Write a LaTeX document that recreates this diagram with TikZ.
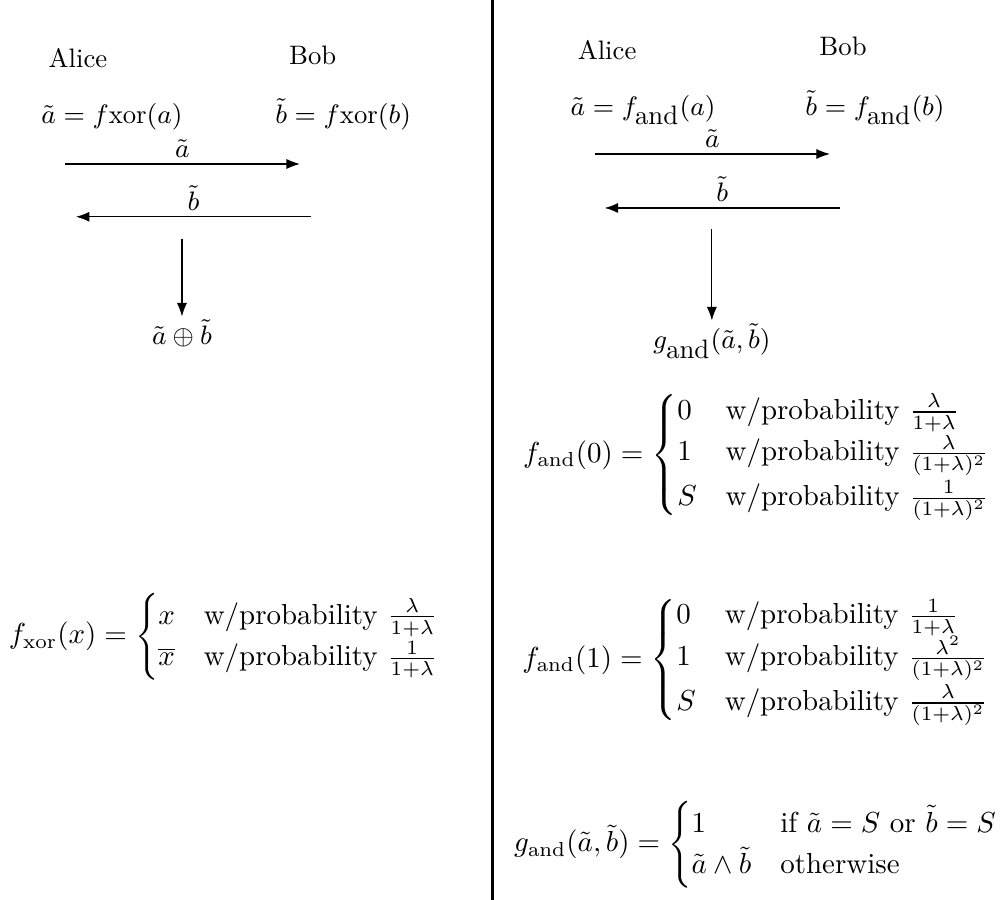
\RequirePackage{fix-cm}
\documentclass[tikz,border=0pt]{standalone}
\usepackage{amssymb}
\usepackage{amsmath}
\usetikzlibrary{arrows.meta}

\tikzset{
  toplabel/.style={font=\fontsize{9.5}{11.4}\selectfont},
  formula/.style={font=\fontsize{10.3}{12.4}\selectfont},
  result/.style={toplabel,anchor=base,inner sep=1pt}
}

\begin{document}
\begin{tikzpicture}[>=Latex]
\useasboundingbox (0,0) rectangle (12.54,-11.25);
% divider
\draw[line width=1pt] (6.16,0) -- (6.16,-11.25);
% xor
\begin{scope}
\node[toplabel,anchor=base] (xalice) at (0.975,-0.85) {Alice};
\node[toplabel,anchor=base] (xbob) at (3.91,-0.81) {Bob};
\node[toplabel,anchor=base] (xfa) at (1.40,-1.55) {$\tilde{a} = f\hbox{xor}(a)$};
\node[toplabel,anchor=base] (xfb) at (4.29,-1.55) {$\tilde{b} = f\hbox{xor}(b)$};
\coordinate (xs1) at (0.81,-2.05); \coordinate (xe1) at (3.75,-2.05);
\coordinate (xs2) at (3.89,-2.71); \coordinate (xe2) at (0.95,-2.71);
\draw[->] (xs1) -- node[toplabel,above,inner sep=2pt] {$\tilde{a}$} (xe1);
\draw[->] (xs2) -- node[toplabel,above,inner sep=2pt] {$\tilde{b}$} (xe2);
\node[result] (xres) at (2.275,-4.31) {$\tilde{a} \oplus \tilde{b}$};
\coordinate (xdown) at (2.275,-2.99);
\draw[->] (xdown) -- (xres);
\node[formula] (xdef) at (2.81,-7.96) {$f_{\mathrm{xor}}(x) = \begin{cases}
  x & \text{w/probability } \frac{\lambda}{1+\lambda}\\
  \overline{x} & \text{w/probability } \frac{1}{1+\lambda}
\end{cases}$};
\end{scope}
% and
\begin{scope}
\node[toplabel,anchor=base] (aalice) at (7.59,-0.75) {Alice};
\node[toplabel,anchor=base] (abob) at (10.54,-0.69) {Bob};
\node[toplabel,anchor=base] (afa) at (8.04,-1.44) {$\tilde{a} = f_{\hbox{and}}(a)$};
\node[toplabel,anchor=base] (afb) at (10.94,-1.44) {$\tilde{b} = f_{\hbox{and}}(b)$};
\coordinate (as1) at (7.44,-1.925); \coordinate (ae1) at (10.375,-1.925);
\coordinate (as2) at (10.5,-2.6); \coordinate (ae2) at (7.56,-2.6);
\draw[->] (as1) -- node[toplabel,above,inner sep=2pt] {$\tilde{a}$} (ae1);
\draw[->] (as2) -- node[toplabel,above,inner sep=2pt] {$\tilde{b}$} (ae2);
\node[result] (ares) at (8.9,-4.36) {$g_{\hbox{and}}(\tilde{a},\tilde{b})$};
\coordinate (adown) at (8.9,-2.86);
\draw[->] (adown) -- (ares);
\node[formula] (adef0) at (9.47,-5.69) {$f_{\mathrm{and}}(0) = \begin{cases}
  0 & \text{w/probability } \frac{\lambda}{1+\lambda}\\
  1 & \text{w/probability } \frac{\lambda}{(1+\lambda)^2}\\
  S & \text{w/probability } \frac{1}{(1+\lambda)^2}
\end{cases}$};
\node[formula] (adef1) at (9.46,-8.25) {$f_{\mathrm{and}}(1) = \begin{cases}
  0 & \text{w/probability } \frac{1}{1+\lambda}\\
  1 & \text{w/probability } \frac{\lambda^2}{(1+\lambda)^2}\\
  S & \text{w/probability } \frac{\lambda}{(1+\lambda)^2}
\end{cases}$};
\node[formula] (gdef) at (9.46,-10.56) {$g_{\mathrm{and}}(\tilde{a},\tilde{b}) = \begin{cases}
  1 & \text{if } \tilde{a} = S \text{ or } \tilde{b} = S\\
  \tilde{a} \wedge \tilde{b} & \text{otherwise}
\end{cases}$};
\end{scope}
\end{tikzpicture}
\end{document}
